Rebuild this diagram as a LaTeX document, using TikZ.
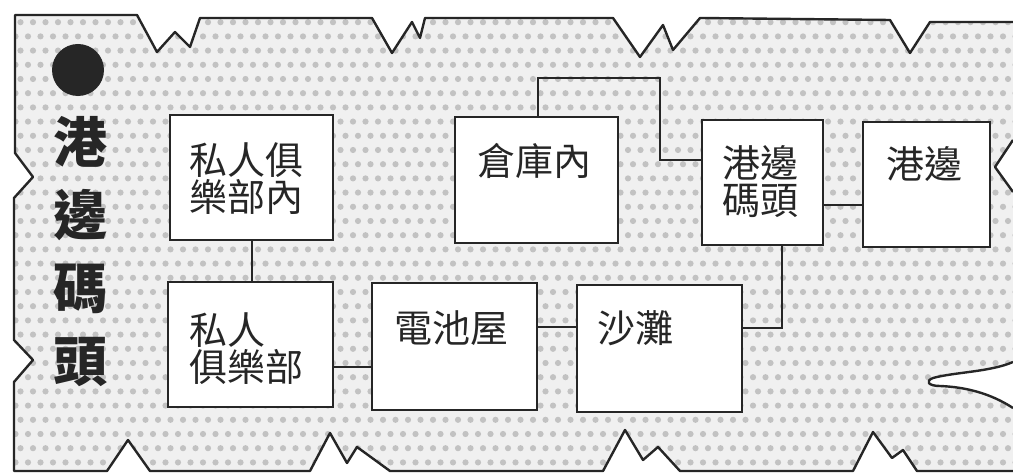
\documentclass[tikz,border=0pt]{standalone}
\usepackage{fontspec}
\newfontfamily\cjk{Noto Sans CJK TC}
\begin{document}
\begin{tikzpicture}[x=1pt,y=-1pt,
  ink/.style={draw=black!85},
  room/.style={ink, line width=2.3pt, fill=white, inner sep=0pt},
  link/.style={ink, line width=2pt},
  edge/.style={ink, line width=2.4pt, line join=round},
  lbl/.style={font=\cjk\fontsize{38}{37}\selectfont, align=left, inner sep=0pt, anchor=west, text=black!85},
  title/.style={font=\cjk\bfseries\fontsize{54}{73}\selectfont, align=center, inner sep=0pt, text=black!85},
  dotc/.style={fill=black!24}
]
\useasboundingbox (0,0) rectangle (1013,473);

% textured region
\def\region{(15,15) -- (137,15) -- (157,52) -- (175,32) -- (190,47) -- (200,18) -- (372,18) -- (392,53) -- (412,22) -- (420,38) -- (425,18) -- (613,18) -- (640,57) -- (663,25) -- (673,50) -- (700,18) -- (890,20) -- (910,53) -- (930,22) -- (1013,22) -- (1013,140) -- (995,167) -- (1013,192) -- (1013,362) .. controls (990,372) and (955,372) .. (933,378) .. controls (925,381) and (928,386) .. (940,386) .. controls (965,387) and (990,393) .. (1013,408) -- (1013,471) -- (917,471) -- (903,450) -- (892,458) -- (873,432) -- (853,471) -- (680,471) -- (658,447) -- (643,460) -- (625,430) -- (603,471) -- (390,471) -- (357,447) -- (347,463) -- (330,433) -- (310,471) -- (150,471) -- (128,440) -- (107,471) -- (14,471) -- (14,382) -- (33,360) -- (14,340) -- (14,198) -- (33,177) -- (15,153) -- cycle}
\fill[black!6] \region;
\begin{scope}
  \clip \region;
  \foreach \j in {0,...,33} {
    \foreach \i in {0,...,81} {
      \fill[dotc] ({\i*12.5+3+mod(\j,2)*5}, {\j*14.2+8}) circle (3.1);
    }
  }
\end{scope}
% border strokes
\draw[edge] (1013,22) -- (930,22) -- (910,53) -- (890,20) -- (700,18) -- (673,50) -- (663,25) -- (640,57) -- (613,18) -- (425,18) -- (420,38) -- (412,22) -- (392,53) -- (372,18) -- (200,18) -- (190,47) -- (175,32) -- (157,52) -- (137,15) -- (15,15) -- (15,153) -- (33,177) -- (14,198) -- (14,340) -- (33,360) -- (14,382) -- (14,471) -- (107,471) -- (128,440) -- (150,471) -- (310,471) -- (330,433) -- (347,463) -- (357,447) -- (390,471) -- (603,471) -- (625,430) -- (643,460) -- (658,447) -- (680,471) -- (853,471) -- (873,432) -- (892,458) -- (903,450) -- (917,471) -- (1013,471);
\draw[edge] (1013,140) -- (995,167) -- (1013,192);
\draw[edge] (1013,362) .. controls (990,372) and (955,372) .. (933,378) .. controls (925,381) and (928,386) .. (940,386) .. controls (965,387) and (990,393) .. (1013,408);

% title
\node[circle, fill=black!85, minimum size=52pt, inner sep=0pt] (dot) at (78,70) {};
\node[title] (ttl) at (80,252) {港\\邊\\碼\\頭};

% rooms
\node[room, minimum width=163pt, minimum height=125pt] (b1) at (251.5,177.5) {};
\node[room, minimum width=165pt, minimum height=125pt] (b2) at (250.5,344.5) {};
\node[room, minimum width=165pt, minimum height=127pt] (b3) at (454.5,346.5) {};
\node[room, minimum width=165pt, minimum height=127pt] (b4) at (659.5,348.5) {};
\node[room, minimum width=163pt, minimum height=126pt] (b5) at (536.5,180) {};
\node[room, minimum width=121pt, minimum height=125pt] (b6) at (762.5,182.5) {};
\node[room, minimum width=127pt, minimum height=125pt] (b7) at (926.5,184.5) {};

\node[lbl] (l1) at (189,179) {私人俱\\樂部內};
\node[lbl] (l2) at (189,349) {私人\\俱樂部};
\node[lbl] (l3) at (394,328) {電池屋};
\node[lbl] (l4) at (597,328) {沙灘};
\node[lbl] (l5) at (477,161) {倉庫內};
\node[lbl] (l6) at (722,182) {港邊\\碼頭};
\node[lbl] (l7) at (886,164) {港邊};

% connectors
\coordinate (h23) at (0,367);
\coordinate (h34) at (0,327);
\coordinate (k1) at (538,78);
\coordinate (k2) at (660,160);
\coordinate (h67) at (0,205);
\coordinate (k4) at (782,328);
\draw[link] (b1.south) -- (b2.north -| b1.south);
\draw[link] (b2.east |- h23) -- (b3.west |- h23);
\draw[link] (b3.east |- h34) -- (b4.west |- h34);
\draw[link] (b5.north -| k1) -- (k1) -| (k2) -- (b6.west |- k2);
\draw[link] (b6.east |- h67) -- (b7.west |- h67);
\draw[link] (b6.south -| k4) -- (k4) -- (b4.east |- k4);
\end{tikzpicture}
\end{document}
